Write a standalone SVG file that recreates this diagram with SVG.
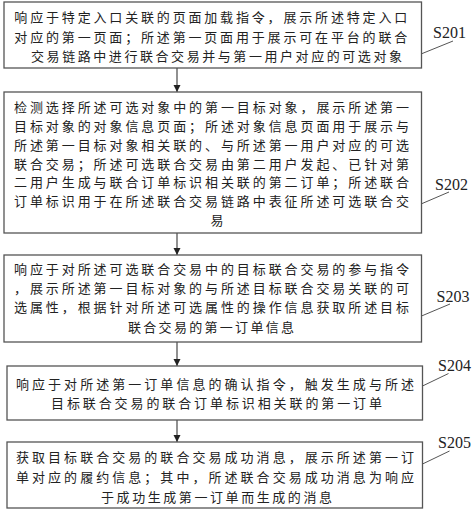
<svg xmlns="http://www.w3.org/2000/svg" width="474" height="513" viewBox="0 0 474 513">
<style>
.box{fill:#fff;stroke:#555;stroke-width:1.3}
.t{font-family:"Noto Sans CJK SC","Noto Sans CJK JP",sans-serif;font-size:13px;fill:#222;text-anchor:middle}
.lbl{font-family:"Liberation Serif","Times New Roman",serif;font-size:16px;fill:#222}
.con{stroke:#555;stroke-width:1.3;fill:none}
.lead{stroke:#555;stroke-width:1;fill:none}
</style>
<defs>
<marker id="ah" markerUnits="userSpaceOnUse" markerWidth="8" markerHeight="8" refX="7" refY="4" orient="auto">
<path d="M0,0.5 L7,4 L0,7.5 Z" fill="#222"/>
</marker>
</defs>
<rect width="474" height="513" fill="#fff"/>
<g id="connectors">
<line class="con" x1="177" y1="68" x2="177" y2="92" marker-end="url(#ah)"/>
<line class="con" x1="177" y1="233" x2="177" y2="255" marker-end="url(#ah)"/>
<line class="con" x1="177" y1="342" x2="177" y2="366" marker-end="url(#ah)"/>
<line class="con" x1="177" y1="420" x2="177" y2="442" marker-end="url(#ah)"/>
</g>
<g id="s201">
<rect class="box" x="4" y="2" width="417.5" height="66"/>
<text class="t" x="210.8" y="22.3" textLength="393" lengthAdjust="spacing">响应于特定入口关联的页面加载指令，展示所述特定入口</text>
<text class="t" x="210.8" y="42.3" textLength="393" lengthAdjust="spacing">对应的第一页面；所述第一页面用于展示可在平台的联合</text>
<text class="t" x="216.5" y="61.3" textLength="371" lengthAdjust="spacing">交易链路中进行联合交易并与第一用户对应的可选对象</text>
<line class="lead" x1="421" y1="54" x2="453" y2="41"/>
<text class="lbl" x="433" y="37.5">S201</text>
</g>
<g id="s202">
<rect class="box" x="4" y="92" width="417.5" height="141"/>
<text class="t" x="211.5" y="111.8" textLength="395" lengthAdjust="spacing">检测选择所述可选对象中的第一目标对象，展示所述第一</text>
<text class="t" x="211.5" y="130.7" textLength="395" lengthAdjust="spacing">目标对象的对象信息页面；所述对象信息页面用于展示与</text>
<text class="t" x="211.5" y="149.6" textLength="395" lengthAdjust="spacing">所述第一目标对象相关联的、与所述第一用户对应的可选</text>
<text class="t" x="211.5" y="168.5" textLength="395" lengthAdjust="spacing">联合交易；所述可选联合交易由第二用户发起、已针对第</text>
<text class="t" x="211.5" y="187.4" textLength="395" lengthAdjust="spacing">二用户生成与联合订单标识相关联的第二订单；所述联合</text>
<text class="t" x="211.5" y="206.3" textLength="395" lengthAdjust="spacing">订单标识用于在所述联合交易链路中表征所述可选联合交</text>
<text class="t" x="217" y="225.2">易</text>
<line class="lead" x1="421" y1="204" x2="449" y2="192"/>
<text class="lbl" x="435" y="190">S202</text>
</g>
<g id="s203">
<rect class="box" x="4" y="255" width="417.5" height="87"/>
<text class="t" x="211.5" y="273.7" textLength="395" lengthAdjust="spacing">响应于对所述可选联合交易中的目标联合交易的参与指令</text>
<text class="t" x="211.5" y="292.5" textLength="395" lengthAdjust="spacing">，展示所述第一目标对象的与所述目标联合交易关联的可</text>
<text class="t" x="211.5" y="312.3" textLength="395" lengthAdjust="spacing">选属性，根据针对所述可选属性的操作信息获取所述目标</text>
<text class="t" x="211" y="332.3" textLength="166" lengthAdjust="spacing">联合交易的第一订单信息</text>
<line class="lead" x1="421.5" y1="316" x2="450" y2="304"/>
<text class="lbl" x="436.5" y="301.5">S203</text>
</g>
<g id="s204">
<rect class="box" x="7" y="366" width="415.5" height="54"/>
<text class="t" x="215" y="389" textLength="398" lengthAdjust="spacing">响应于对所述第一订单信息的确认指令，触发生成与所述</text>
<text class="t" x="216.5" y="408" textLength="331" lengthAdjust="spacing">目标联合交易的联合订单标识相关联的第一订单</text>
<line class="lead" x1="422.5" y1="386" x2="448.5" y2="373.5"/>
<text class="lbl" x="438" y="370.7">S204</text>
</g>
<g id="s205">
<rect class="box" x="7" y="442" width="415.5" height="66"/>
<text class="t" x="215" y="462.3" textLength="398" lengthAdjust="spacing">获取目标联合交易的联合交易成功消息，展示所述第一订</text>
<text class="t" x="215" y="482" textLength="398" lengthAdjust="spacing">单对应的履约信息；其中，所述联合交易成功消息为响应</text>
<text class="t" x="216.5" y="501.7" textLength="231" lengthAdjust="spacing">于成功生成第一订单而生成的消息</text>
<line class="lead" x1="422.5" y1="464" x2="449.5" y2="451"/>
<text class="lbl" x="438" y="448.3">S205</text>
</g>
</svg>
